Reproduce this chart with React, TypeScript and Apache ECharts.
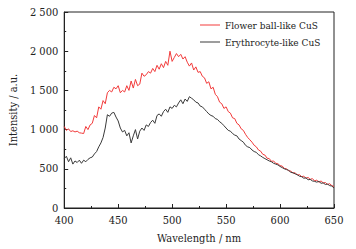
import React, { useEffect, useRef } from "react";
import * as echarts from "echarts";

const wavelengths: number[] = [];
for (let w = 400; w <= 650; w += 2) wavelengths.push(w);

const flowerBall = [
  1040, 990, 1010, 975, 985, 970, 980, 960, 955, 950,
  1040, 1000, 1060, 1080, 1180, 1150, 1290, 1260, 1370, 1330,
  1470, 1500, 1480, 1540, 1520, 1560, 1470, 1500, 1480, 1560,
  1500, 1620, 1530, 1640, 1560, 1580, 1720, 1680, 1700, 1740,
  1720, 1780, 1740, 1820, 1770, 1840, 1790, 1870, 1820, 2000,
  1870, 1920, 1970, 1930, 1960, 1900, 1930, 1860, 1810, 1850,
  1760, 1800, 1730, 1740, 1680, 1660, 1590, 1610, 1520, 1540,
  1450, 1420, 1350, 1330, 1270, 1290, 1230, 1210, 1150, 1140,
  1080, 1060, 1010, 990, 940, 900, 870, 840, 800, 780,
  740, 725, 685, 675, 635, 630, 595, 600, 570, 565,
  540, 535, 505, 500, 475, 470, 445, 450, 420, 425,
  400, 405, 380, 390, 365, 375, 345, 355, 330, 345,
  320, 325, 300, 310, 285, 275,
];

const erythrocyte = [
  630, 660, 590, 640, 560, 600, 580, 610, 570, 610,
  590, 620, 640, 650, 690, 720, 780, 830, 900, 1020,
  1190, 1170, 1210, 1220, 1160, 1110, 1020, 970, 990, 920,
  960, 830, 920, 1000, 880, 980, 1020, 990, 1060, 1040,
  1090, 1120, 1080, 1180, 1200, 1170, 1230, 1260, 1220, 1290,
  1270, 1310, 1290, 1340, 1380, 1330, 1390, 1360, 1420, 1400,
  1380, 1350, 1340, 1300, 1290, 1260, 1230, 1200, 1180, 1170,
  1140, 1130, 1100, 1080, 1050, 1020, 990, 980, 950, 930,
  920, 880, 860, 840, 800, 780, 770, 740, 720, 710,
  680, 665, 645, 630, 615, 600, 590, 570, 560, 550,
  530, 515, 500, 490, 480, 455, 450, 435, 425, 405,
  400, 380, 385, 360, 365, 345, 340, 330, 340, 315,
  320, 300, 305, 285, 280, 255,
];

const seriesNames = ["Flower ball-like CuS", "Erythrocyte-like CuS"];

const FONT = "'DejaVu Serif Condensed', 'DejaVu Serif'";

function fmt(v: number): string {
  const s = String(v);
  if (s.length > 3) return s.slice(0, s.length - 3) + " " + s.slice(s.length - 3);
  return s;
}

export default function App() {
  const ref = useRef<HTMLDivElement>(null);
  useEffect(() => {
    if (!ref.current) return;
    const chart = echarts.init(ref.current, undefined, { renderer: "svg" });
    const axisCommon = {
      axisLine: { show: true, lineStyle: { color: "#222", width: 1 } },
      axisTick: { show: true, inside: true, length: 4, lineStyle: { color: "#222" } },
      minorTick: { show: true, splitNumber: 2, length: 2, lineStyle: { color: "#222" } },
      splitLine: { show: false },
      axisLabel: { color: "#222", fontFamily: FONT, fontSize: 11 },
      nameTextStyle: { color: "#222", fontFamily: FONT, fontSize: 11 },
    };
    chart.setOption({
      animation: false,
      backgroundColor: "#fff",
      textStyle: { fontFamily: FONT },
      grid: {
        left: 56,
        right: 22,
        top: 12,
        bottom: 37,
        show: true,
        borderColor: "#222",
        borderWidth: 1,
        containLabel: false,
      },
      legend: {
        left: 195,
        top: 15,
        orient: "vertical",
        itemWidth: 20,
        itemHeight: 1,
        itemGap: 7,
        icon: "rect",
        textStyle: { color: "#222", fontFamily: FONT, fontSize: 10 },
        data: seriesNames,
      },
      xAxis: {
        type: "value",
        min: 400,
        max: 650,
        interval: 50,
        name: "Wavelength / nm",
        nameLocation: "middle",
        nameGap: 25,
        ...axisCommon,
        axisLabel: { ...axisCommon.axisLabel, margin: 7 },
      },
      yAxis: {
        type: "value",
        min: 0,
        max: 2500,
        interval: 500,
        name: "Intensity / a.u.",
        nameLocation: "middle",
        nameGap: 40,
        ...axisCommon,
        axisLabel: { ...axisCommon.axisLabel, margin: 6, formatter: (v: number) => fmt(v) },
      },
      series: [
        {
          name: seriesNames[0],
          type: "line",
          data: wavelengths.map((w, i) => [w, flowerBall[i]]),
          showSymbol: false,
          lineStyle: { color: "#f23b3b", width: 1 },
          itemStyle: { color: "#f23b3b" },
        },
        {
          name: seriesNames[1],
          type: "line",
          data: wavelengths.map((w, i) => [w, erythrocyte[i]]),
          showSymbol: false,
          lineStyle: { color: "#3a3a3a", width: 1 },
          itemStyle: { color: "#3a3a3a" },
        },
      ],
    });
    return () => chart.dispose();
  }, []);
  return <div ref={ref} style={{ width: 356, height: 249, position: "absolute", left: 0, top: 0 }} />;
}
